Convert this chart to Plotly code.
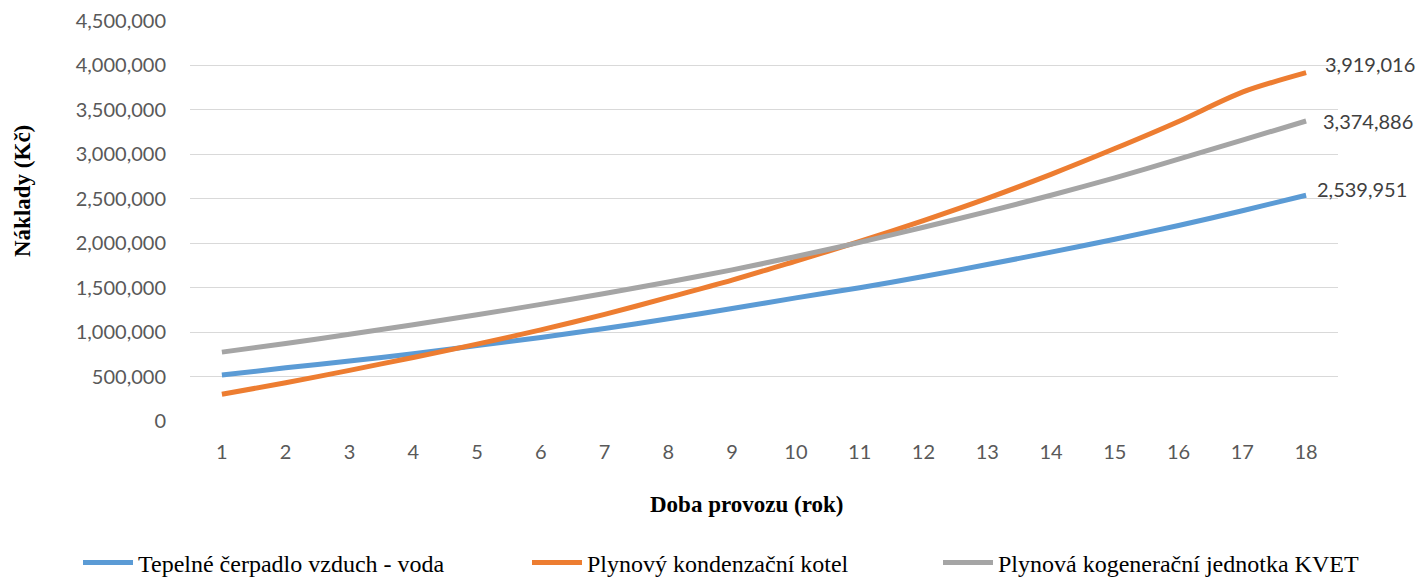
import plotly.graph_objects as go

years = list(range(1, 19))
year_labels = [str(y) for y in years]

tepelne_cerpadlo = [517000, 598000, 675000, 757000, 848000, 940000, 1040000, 1150000, 1265000,
                    1385000, 1500000, 1625000, 1760000, 1900000, 2045000, 2200000, 2365000, 2539951]
plynovy_kotel = [300000, 430000, 570000, 715000, 865000, 1025000, 1200000, 1390000, 1585000,
                 1800000, 2020000, 2255000, 2505000, 2775000, 3065000, 3370000, 3700000, 3919016]
kogenerace = [775000, 872000, 975000, 1083000, 1195000, 1312000, 1435000, 1563000, 1700000,
              1850000, 2010000, 2180000, 2355000, 2540000, 2735000, 2945000, 3160000, 3374886]

names = ["Tepelné čerpadlo vzduch - voda", "Plynový kondenzační kotel",
         "Plynová kogenerační jednotka KVET"]
series = [tepelne_cerpadlo, plynovy_kotel, kogenerace]
colors = ["#5B9BD5", "#ED7D31", "#A5A5A5"]
legend_ids = ["legend", "legend2", "legend3"]
label_xshift = [9, 17, 15]
label_yshift = [6, 9, 0]

y_ticks = list(range(0, 4500001, 500000))
y_tick_labels = [f"{v:,}" for v in y_ticks]

# page offset of the figure (default body margin of the html page)
OFF = 8
# plot area in page pixels
P_LEFT, P_RIGHT, P_TOP, P_BOTTOM = 190, 1338, 21, 421
W, H = 1425 - OFF, 583 - OFF
PL = P_LEFT - OFF
PT = P_TOP - OFF
PR = W - (P_RIGHT - OFF)
PB = H - (P_BOTTOM - OFF)
pw = P_RIGHT - P_LEFT
ph = P_BOTTOM - P_TOP


def px_x(x):
    return (x - P_LEFT) / pw


def px_y(y):
    return (P_BOTTOM - y) / ph


fig = go.Figure()
for nm, vals, col, lg in zip(names, series, colors, legend_ids):
    fig.add_trace(go.Scatter(
        x=years, y=vals, name=nm, mode="lines",
        line=dict(color=col, width=5, shape="spline", smoothing=0.8),
        legend=lg, hoverinfo="skip",
    ))

annotations = []
for vals, xs, ys in zip(series, label_xshift, label_yshift):
    annotations.append(dict(
        x=years[-1], y=vals[-1], xref="x", yref="y",
        text=f"{vals[-1]:,}", showarrow=False,
        xanchor="left", yanchor="middle", xshift=xs, yshift=ys,
        font=dict(family="Lato", size=20, color="#404040"),
    ))

# axis titles
annotations.append(dict(
    x=0, y=px_y(191), xref="paper", yref="paper",
    text="<b>Náklady (Kč)</b>", textangle=-90, showarrow=False,
    xanchor="center", yanchor="middle", xshift=22 - P_LEFT,
    font=dict(family="Liberation Serif", size=23, color="#000000"),
))
annotations.append(dict(
    x=px_x(746), y=px_y(504), xref="paper", yref="paper",
    text="<b>Doba provozu (rok)</b>", showarrow=False,
    xanchor="center", yanchor="middle",
    font=dict(family="Liberation Serif", size=23, color="#000000"),
))
# chart title (above the visible area, as in the reference)
annotations.append(dict(
    x=px_x(769), y=px_y(6), xref="paper", yref="paper",
    text="<b>Celkové náklady (bez dotací)</b>", showarrow=False,
    xanchor="center", yanchor="bottom",
    font=dict(family="Liberation Serif", size=23, color="#000000"),
))

leg_common = dict(orientation="h", yanchor="middle", xanchor="left",
                  font=dict(family="Liberation Serif", size=24, color="#000000"),
                  bgcolor="rgba(0,0,0,0)", itemwidth=50)
ly = px_y(563)

fig.update_layout(
    width=W, height=H,
    margin=dict(l=PL, r=PR, t=PT, b=PB, autoexpand=False),
    paper_bgcolor="white", plot_bgcolor="white",
    showlegend=True,
    legend=dict(x=px_x(78), y=ly, **leg_common),
    legend2=dict(x=px_x(527), y=ly, **leg_common),
    legend3=dict(x=px_x(938), y=ly, **leg_common),
    xaxis=dict(
        type="linear", range=[0.5, 18.5], tickmode="array",
        tickvals=years, ticktext=year_labels,
        showgrid=False, zeroline=False, showline=False, ticks="",
        tickfont=dict(family="Lato", size=20, color="#595959"),
        ticklabelstandoff=17,
    ),
    yaxis=dict(
        range=[0, 4500000], tickmode="array", tickvals=y_ticks, ticktext=y_tick_labels,
        showgrid=True, gridcolor="#D9D9D9", gridwidth=1.3,
        zeroline=False, showline=False, ticks="",
        tickfont=dict(family="Lato", size=20, color="#595959"),
        ticklabelstandoff=23,
    ),
    annotations=annotations,
)

fig.write_html("out.html")
